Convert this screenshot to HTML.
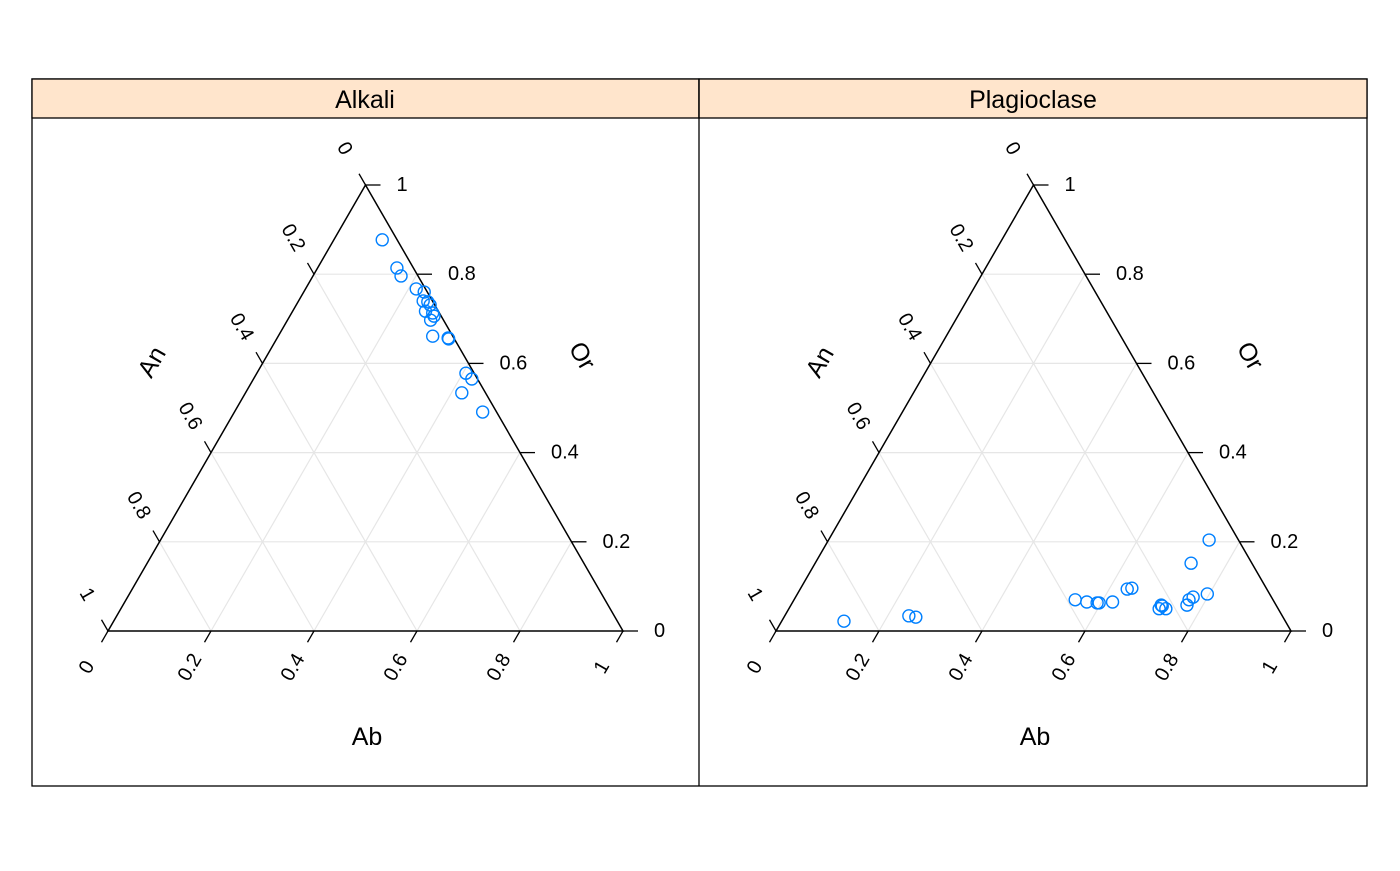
<!DOCTYPE html>
<html><head><meta charset="utf-8"><style>
body{margin:0;background:#fff}
svg text{font-family:"Liberation Sans",sans-serif}
</style></head><body>
<svg id="chart" width="1400" height="866" xmlns="http://www.w3.org/2000/svg">
<rect x="32" y="79" width="1335" height="707" fill="none" stroke="#000" stroke-width="1.3"/>
<rect x="32" y="79" width="667" height="39" fill="#ffe5cc" stroke="#000" stroke-width="1.3"/>
<rect x="699" y="79" width="668" height="39" fill="#ffe5cc" stroke="#000" stroke-width="1.3"/>
<line x1="699" y1="79" x2="699" y2="786" stroke="#000" stroke-width="1.3"/>
<text x="365" y="108" font-size="25" text-anchor="middle">Alkali</text>
<text x="1033" y="108" font-size="25" text-anchor="middle">Plagioclase</text>
<g id="plots"></g>
</svg>
<script>
const ticks=[0,0.2,0.4,0.6,0.8,1];
const tickLabels=["0","0.2","0.4","0.6","0.8","1"];
const alkaliAb=[0.094,0.154,0.171,0.215,0.234,0.242,0.252,0.260,0.258,0.274,0.278,0.280,0.300,0.332,0.334,0.406,0.424,0.420,0.482];
const alkaliOr=[0.877,0.814,0.796,0.767,0.760,0.740,0.738,0.731,0.717,0.713,0.697,0.706,0.661,0.657,0.655,0.578,0.565,0.534,0.491];
const plagAb=[0.121,0.241,0.256,0.546,0.571,0.592,0.596,0.621,0.635,0.643,0.719,0.722,0.732,0.719,0.769,0.767,0.772,0.796,0.730,0.739];
const plagOr=[0.022,0.034,0.031,0.070,0.065,0.063,0.063,0.065,0.094,0.096,0.050,0.056,0.050,0.058,0.058,0.070,0.076,0.083,0.152,0.204];
const NS="http://www.w3.org/2000/svg";
const g=document.getElementById('plots');
const W=515,H=446;
function mk(t,a,p){const e=document.createElementNS(NS,t);for(const k in a)e.setAttribute(k,a[k]);(p||g).appendChild(e);return e;}
function panel(x0,y0,ab,or,name){
  const P=(A,O)=>[x0+W*(A+O/2),y0-H*O];
  const grp=mk('g',{});
  
  
  for(let i=1;i<5;i++){const v=ticks[i];
    let a=P(0,v),b=P(1-v,v);
    let l=mk('line',{x1:a[0],y1:a[1],x2:b[0],y2:b[1],stroke:'#e6e6e6','stroke-width':1.2},grp);
    
    a=P(v,0);b=P(v,1-v);
    l=mk('line',{x1:a[0],y1:a[1],x2:b[0],y2:b[1],stroke:'#e6e6e6','stroke-width':1.2},grp);
    
    a=P(1-v,0);b=P(0,1-v);
    l=mk('line',{x1:a[0],y1:a[1],x2:b[0],y2:b[1],stroke:'#e6e6e6','stroke-width':1.2},grp);
    
  }
  const A=P(0,0),B=P(1,0),C=P(0,1);
  const tri=mk('polygon',{points:A+' '+B+' '+C,fill:'none',stroke:'#000','stroke-width':1.5},grp);
  
  const L=13;
  ticks.forEach((v,i)=>{
    let p=P(v,0),d=[-0.5,0.866];
    let t=mk('line',{x1:p[0],y1:p[1],x2:p[0]+d[0]*L,y2:p[1]+d[1]*L,stroke:'#000','stroke-width':1.3},grp);
    
    let cx=p[0]+d[0]*42,cy=p[1]+d[1]*42;
    let tx=mk('text',{x:cx,y:cy,'font-size':20,'text-anchor':'middle','dominant-baseline':'central',transform:`rotate(-60 ${cx} ${cy})`},grp);
    tx.textContent=tickLabels[i];
    p=P(1-v,v);
    t=mk('line',{x1:p[0],y1:p[1],x2:p[0]+L+2,y2:p[1],stroke:'#000','stroke-width':1.3},grp);
    
    tx=mk('text',{x:p[0]+31,y:p[1],'font-size':20,'dominant-baseline':'central'},grp);
    tx.textContent=tickLabels[i];
    p=P(0,1-v);d=[-0.5,-0.866];
    t=mk('line',{x1:p[0],y1:p[1],x2:p[0]+d[0]*L,y2:p[1]+d[1]*L,stroke:'#000','stroke-width':1.3},grp);
    
    cx=p[0]+d[0]*42;cy=p[1]+d[1]*42;
    tx=mk('text',{x:cx,y:cy,'font-size':20,'text-anchor':'middle','dominant-baseline':'central',transform:`rotate(60 ${cx} ${cy})`},grp);
    tx.textContent=tickLabels[i];
  });
  let t=mk('text',{x:x0+259,y:745,'font-size':25,'text-anchor':'middle'},grp);
  t.textContent='Ab';
  t=mk('text',{x:x0+44,y:362,'font-size':25,'text-anchor':'middle','dominant-baseline':'central',transform:`rotate(-60 ${x0+44} 362)`},grp);
  t.textContent='An';
  t=mk('text',{x:x0+474,y:356,'font-size':25,'text-anchor':'middle','dominant-baseline':'central',transform:`rotate(60 ${x0+474} 356)`},grp);
  t.textContent='Or';
  ab.forEach((a,i)=>{const p=P(a,or[i]);
    const c=mk('circle',{cx:p[0],cy:p[1],r:6,fill:'none',stroke:'#0080ff','stroke-width':1.4},grp);
    
  });
}
panel(108,631,alkaliAb,alkaliOr,'alkali');
panel(776,631,plagAb,plagOr,'plagioclase');
</script>
</body></html>
